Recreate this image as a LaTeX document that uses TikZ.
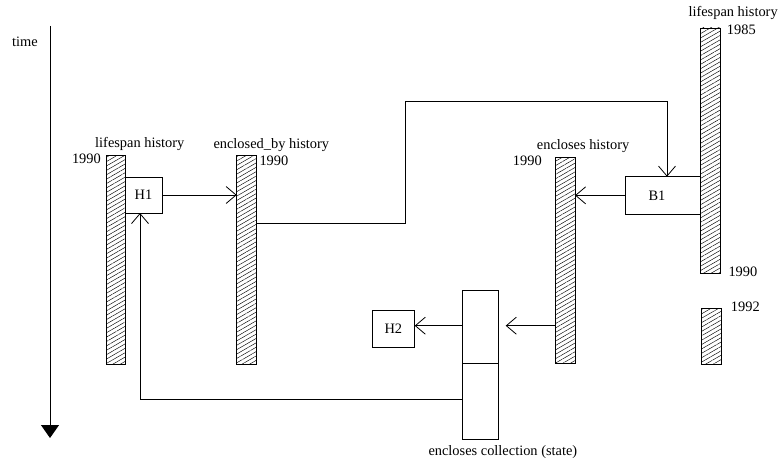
\documentclass[tikz,border=0pt]{standalone}
\usepackage{fontspec}
\setmainfont{Liberation Serif}
\usetikzlibrary{arrows.meta,patterns.meta}
\begin{document}
\begin{tikzpicture}[x=1pt,y=-1pt,
  bar/.style={draw, line width=0.8pt, pattern={Lines[angle=30,distance=3.8pt,line width=0.45pt]}, anchor=north west, inner sep=0pt, outer sep=0pt},
  box/.style={draw, line width=0.8pt, anchor=north west, inner sep=0pt, outer sep=0pt, font=\fontsize{14.4}{17}\selectfont},
  lbl/.style={anchor=base west, inner sep=0pt, font=\fontsize{14.4}{17}\selectfont},
  conn/.style={line width=0.8pt},
  arr/.style={line width=0.8pt, -{Straight Barb[length=10pt,width=17pt,line width=0.8pt]}},
  ]
\useasboundingbox (0,0) rectangle (781,460);

% time axis
\coordinate (t0) at (50,26);
\coordinate (t1) at (50,438);
\draw[line width=1pt, -{Triangle[length=13pt,width=18pt]}] (t0) -- (t1);
\node[lbl] (time) at (12,46.5) {time};

% history bars
\node[bar, minimum width=19.5pt, minimum height=209pt] (barL) at (106,155) {};
\node[bar, minimum width=19.3pt, minimum height=209pt] (barE) at (236.7,155) {};
\node[bar, minimum width=19.7pt, minimum height=205.6pt] (barC) at (555.3,157.7) {};
\node[bar, minimum width=19.5pt, minimum height=245pt] (barR) at (700.5,28) {};
\node[bar, minimum width=20.5pt, minimum height=55.7pt] (barR2) at (701,308.3) {};

% labels
\node[lbl] (lsL) at (95,147.7) {lifespan history};
\node[lbl, anchor=base east] (yL) at (101,163.3) {1990};
\node[lbl] (lsE) at (213.3,148.3) {enclosed\_by history};
\node[lbl] (yE) at (259.3,165.5) {1990};
\node[lbl] (lsC) at (536.7,149.5) {encloses history};
\node[lbl] (yC) at (512.7,165) {1990};
\node[lbl] (lsR) at (688.3,16.7) {lifespan history};
\node[lbl] (yR1) at (726.7,35) {1985};
\node[lbl] (yR2) at (728.3,276.7) {1990};
\node[lbl] (yR3) at (730.7,311) {1992};
\node[lbl] (lcoll) at (428.3,455.7) {encloses collection (state)};

% boxes
\node[box, minimum width=37pt, minimum height=36pt] (H1) at (125,177) {H1};
\node[box, minimum width=74.5pt, minimum height=37.3pt] (B1) at (625.7,176.7) {};
\node[lbl, anchor=center] (B1t) at (657,196) {B1};
\node[box, minimum width=42.7pt, minimum height=37.3pt] (H2) at (372,310) {H2};
\node[box, minimum width=35.6pt, minimum height=73.3pt] (ctop) at (462.7,290) {};
\node[box, minimum width=35.6pt, minimum height=76pt] (cbot) at (462.7,363.3) {};

% connectors
\draw[arr] (H1.east) -- (H1.east -| barE.west);
\coordinate (e1) at (405,223);
\coordinate (e2) at (405,101);
\coordinate (e3) at (667,101);
\draw[arr] (barE.east |- e1) -- (e1) -- (e2) -- (e3) -- (e3 |- B1.north);
\draw[arr] (B1.west) -- (B1.west -| barC.east);
\coordinate (a1) at (505.7,325.7);
\draw[arr] (barC.west |- a1) -- (a1);
\draw[arr] (ctop.west |- a1) -- (H2.east |- a1);
\coordinate (r1) at (140,399.3);
\draw[arr] (cbot.west |- r1) -- (r1) -- (r1 |- H1.south);
\end{tikzpicture}
\end{document}
